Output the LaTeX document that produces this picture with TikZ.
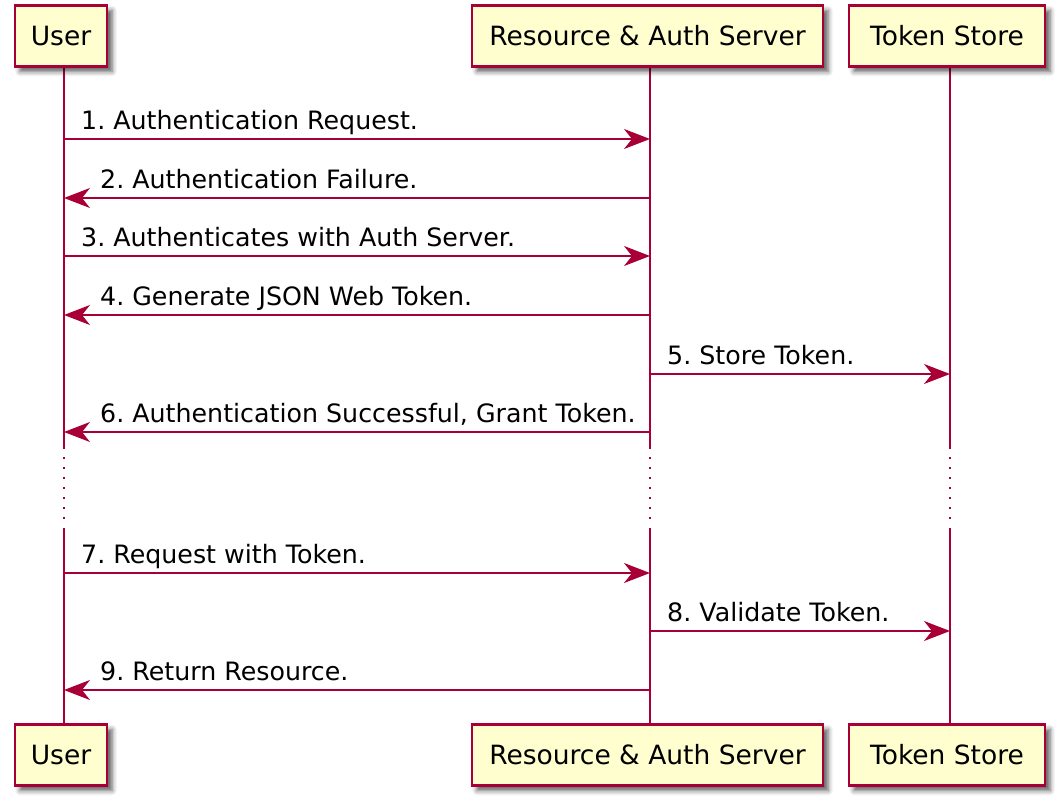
\documentclass[tikz,border=0pt]{standalone}
\usepackage{fontspec}
\setmainfont{DejaVu Sans}
\usetikzlibrary{arrows.meta,shadows.blur}
\definecolor{puml}{RGB}{168,0,54}
\definecolor{pfill}{RGB}{254,254,206}
\tikzset{
  actor/.style={draw=puml, line width=2.5pt, fill=pfill, inner sep=0pt,
    minimum height=61pt, font=\fontsize{26.5}{32}\selectfont,
    blur shadow={shadow xshift=5pt, shadow yshift=-5pt, shadow blur radius=5pt, shadow opacity=65}},
  life/.style={draw=puml, line width=1.5pt},
  lifedot/.style={draw=puml, line width=1.5pt, dash pattern=on 1.5pt off 8.5pt},
  msg/.style={draw=puml, line width=1.5pt, -{Stealth[length=26pt,width=20pt,inset=8pt]}},
  lbl/.style={anchor=base west, inner sep=0pt, font=\fontsize{25.3}{32}\selectfont}
}
\begin{document}
\frenchspacing
\begin{tikzpicture}[x=1pt,y=-1pt]
\useasboundingbox (0,0) rectangle (1064,805);
% lifeline coordinates
\foreach \n/\x in {u/64,s/650,t/950}{
  \coordinate (\n A) at (\x,67);
  \coordinate (\n B) at (\x,449);
  \coordinate (\n C) at (\x,457);
  \coordinate (\n D) at (\x,521);
  \coordinate (\n E) at (\x,528);
  \coordinate (\n F) at (\x,724);
}
\foreach \n in {u,s,t}{
  \draw[life] (\n A) -- (\n B);
  \draw[lifedot] (\n C) -- (\n D);
  \draw[life] (\n E) -- (\n F);
}
% actors
\node[actor, minimum width=92pt] (utop) at (61,36) {User};
\node[actor, minimum width=351pt] (stop) at (647.5,36) {Resource \& Auth Server};
\node[actor, minimum width=196pt] (ttop) at (947,36) {Token Store};
\node[actor, minimum width=92pt] (ubot) at (61,755) {User};
\node[actor, minimum width=351pt] (sbot) at (647.5,755) {Resource \& Auth Server};
\node[actor, minimum width=196pt] (tbot) at (947,755) {Token Store};
% message points
\foreach \i/\y in {1/139,2/198,3/256,4/315,5/374,6/432,7/573,8/631,9/690}{
  \coordinate (u\i) at (64,\y);
  \coordinate (s\i) at (650,\y);
  \coordinate (t\i) at (950,\y);
}
\draw[msg] (u1) -- (s1);
\draw[msg] (s2) -- (u2);
\draw[msg] (u3) -- (s3);
\draw[msg] (s4) -- (u4);
\draw[msg] (s5) -- (t5);
\draw[msg] (s6) -- (u6);
\draw[msg] (u7) -- (s7);
\draw[msg] (s8) -- (t8);
\draw[msg] (s9) -- (u9);
% labels
\node[lbl] (l1) at (81,129.5) {1. Authentication Request.};
\node[lbl] (l2) at (100,188.5) {2. Authentication Failure.};
\node[lbl] (l3) at (81,246.5) {3. Authenticates with Auth Server.};
\node[lbl] (l4) at (100,305.5) {4. Generate JSON Web Token.};
\node[lbl] (l5) at (667,364.5) {5. Store Token.};
\node[lbl] (l6) at (100,422.5) {6. Authentication Successful, Grant Token.};
\node[lbl] (l7) at (81,563.5) {7. Request with Token.};
\node[lbl] (l8) at (667,621.5) {8. Validate Token.};
\node[lbl] (l9) at (100,680.5) {9. Return Resource.};
\end{tikzpicture}
\end{document}
